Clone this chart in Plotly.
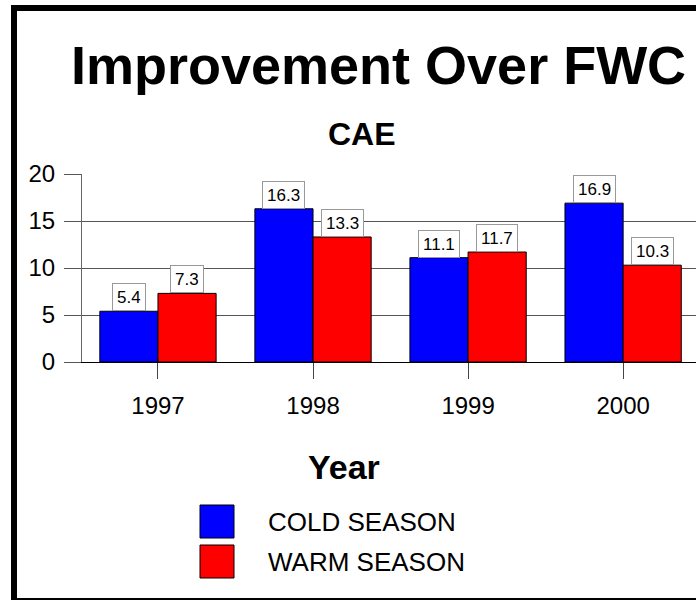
import plotly.graph_objects as go

years = ["1997", "1998", "1999", "2000"]
cold_season = [5.4, 16.3, 11.1, 16.9]
warm_season = [7.3, 13.3, 11.7, 10.3]
y_ticks = [0, 5, 10, 15, 20]

W, H = 696, 600
L, R, T, B = 82, 0, 174, 600 - 362
PW, PH = W - L - R, H - T - B

def px(x):
    return (x - L) / PW

def py(y):
    return (H - B - y) / PH

FONT = "Arial, Liberation Sans, sans-serif"

fig = go.Figure()
fig.add_trace(go.Bar(x=years, y=cold_season, name="COLD SEASON",
                     marker=dict(color="#0000ff", line=dict(color="black", width=1))))
fig.add_trace(go.Bar(x=years, y=warm_season, name="WARM SEASON",
                     marker=dict(color="#ff0000", line=dict(color="black", width=1))))

annotations = []
offset = (1 - 0.25) / 4
for i, (c, w) in enumerate(zip(cold_season, warm_season)):
    for val, dx in ((c, -offset), (w, offset)):
        annotations.append(dict(
            x=i + dx, y=val, xref="x", yref="y", text=f"{val:.1f}",
            showarrow=False, yanchor="bottom", xanchor="center",
            font=dict(family=FONT, size=17, color="black"),
            bgcolor="white", bordercolor="#999999", borderwidth=1,
            borderpad=4, height=18))

annotations += [
    dict(x=px(378), y=py(65), xref="paper", yref="paper", text="<b>Improvement Over FWC</b>",
         showarrow=False, xanchor="center", yanchor="middle",
         font=dict(family=FONT, size=54, color="black")),
    dict(x=px(362), y=py(134), xref="paper", yref="paper", text="<b>CAE</b>",
         showarrow=False, xanchor="center", yanchor="middle",
         font=dict(family=FONT, size=32, color="black")),
    dict(x=px(344), y=py(467), xref="paper", yref="paper", text="<b>Year</b>",
         showarrow=False, xanchor="center", yanchor="middle",
         font=dict(family=FONT, size=34, color="black")),
    dict(x=px(266), y=py(522), xref="paper", yref="paper", text="COLD SEASON",
         showarrow=False, xanchor="left", yanchor="middle",
         font=dict(family=FONT, size=26, color="black")),
    dict(x=px(266), y=py(562), xref="paper", yref="paper", text="WARM SEASON",
         showarrow=False, xanchor="left", yanchor="middle",
         font=dict(family=FONT, size=26, color="black")),
]

shapes = [
    # frame
    dict(type="rect", xref="paper", yref="paper", x0=px(11), x1=px(17), y0=py(5), y1=py(610),
         fillcolor="black", line=dict(width=0), layer="above"),
    dict(type="rect", xref="paper", yref="paper", x0=px(11), x1=px(720), y0=py(5), y1=py(11),
         fillcolor="black", line=dict(width=0), layer="above"),
    dict(type="rect", xref="paper", yref="paper", x0=px(11), x1=px(720), y0=py(598), y1=py(600),
         fillcolor="black", line=dict(width=0), layer="above"),
    # legend swatches
    dict(type="rect", xref="paper", yref="paper", x0=px(200), x1=px(234), y0=py(505), y1=py(538),
         fillcolor="#0000ff", line=dict(color="black", width=1)),
    dict(type="rect", xref="paper", yref="paper", x0=px(200), x1=px(234), y0=py(545), y1=py(578),
         fillcolor="#ff0000", line=dict(color="black", width=1)),
]

fig.update_layout(
    width=W, height=H,
    margin=dict(l=L, r=R, t=T, b=B, pad=0),
    paper_bgcolor="white", plot_bgcolor="white",
    barmode="group", bargap=0.25, bargroupgap=0,
    showlegend=False, hovermode=False,
    annotations=annotations, shapes=shapes,
    font=dict(family=FONT, color="black"),
)
fig.update_xaxes(type="category", range=[-0.49, 3.47], showline=True, linecolor="black",
                 linewidth=1, ticks="outside", ticklen=16, tickcolor="#444444", tickwidth=1,
                 tickfont=dict(family=FONT, size=24, color="black"), showgrid=False,
                 ticklabelstandoff=6)
fig.update_yaxes(range=[0, 20], tickvals=y_ticks, showgrid=True, gridcolor="#555555",
                 gridwidth=1, zeroline=False, showline=True, linecolor="#666666", linewidth=1,
                 ticks="outside", ticklen=17, tickcolor="#555555", tickwidth=1,
                 tickfont=dict(family=FONT, size=24, color="black"), ticklabelstandoff=4)

fig.write_html("out.html", config={"displayModeBar": False},
               post_script="document.body.style.margin='0';document.body.style.overflow='hidden';")
